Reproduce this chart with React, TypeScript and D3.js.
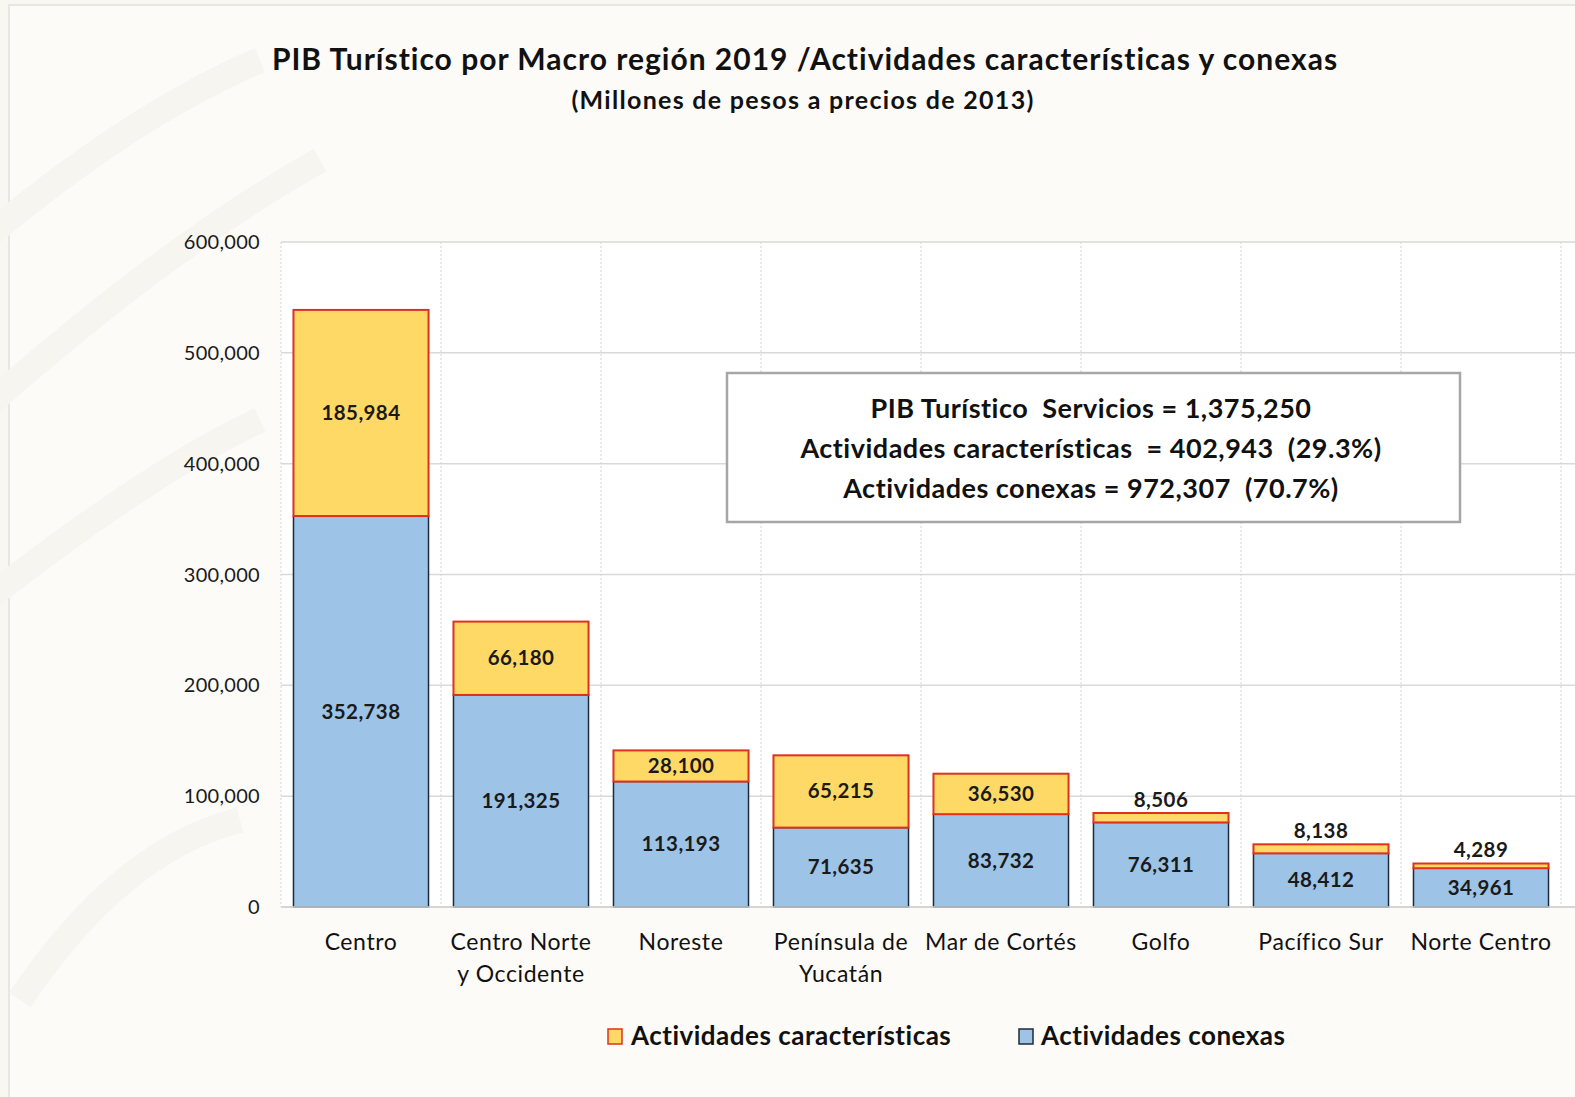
import React, { useEffect } from 'react';
import * as d3 from 'd3';

const categories = [
  ['Centro'],
  ['Centro Norte', 'y Occidente'],
  ['Noreste'],
  ['Península de', 'Yucatán'],
  ['Mar de Cortés'],
  ['Golfo'],
  ['Pacífico Sur'],
  ['Norte Centro'],
];
const conexas = [352738, 191325, 113193, 71635, 83732, 76311, 48412, 34961];
const caracteristicas = [185984, 66180, 28100, 65215, 36530, 8506, 8138, 4289];
const yTicks = [0, 100000, 200000, 300000, 400000, 500000, 600000];
const boxLines = [
  'PIB Turístico  Servicios = 1,375,250',
  'Actividades características  = 402,943  (29.3%)',
  'Actividades conexas = 972,307  (70.7%)',
];

const W = 1575;
const H = 1097;
const FONT = 'Lato, "Open Sans", sans-serif';
const YELLOW = '#ffd966';
const RED = '#e0301e';
const BLUE = '#9dc3e6';
const DARK = '#1f2a38';

const fmt = d3.format(',');

export default function App() {
  useEffect(() => {
    document.body.style.margin = '0';
  }, []);

  const x = d3
    .scaleBand<number>()
    .domain(d3.range(categories.length))
    .range([281, 1561])
    .paddingInner(0.156)
    .paddingOuter(0.078);
  const y = d3.scaleLinear().domain([0, 600000]).range([907, 242]);
  const step = x.step();

  return (
    <svg width={W} height={H} style={{ display: 'block' }} fontFamily={FONT}>
      <rect x={0} y={0} width={W} height={H} fill="#f8f7f2" />
      <rect x={9} y={5} width={W} height={H} fill="#fcfbf8" stroke="#e2e1dc" strokeWidth={1.5} />
      {/* faint watermark */}
      <g fill="none" stroke="#f7f5f0" strokeWidth={26}>
        <path d="M -40 260 Q 120 120 260 60" />
        <path d="M -40 430 Q 160 250 320 160" />
        <path d="M -40 620 Q 150 470 260 420" />
        <path d="M 20 1000 Q 120 850 240 820" />
      </g>
      <rect x={281} y={242} width={1294} height={665} fill="#ffffff" />

      <text x={805} y={70} textAnchor="middle" fontSize={30} fontWeight={700} letterSpacing={1} fill="#111">
        PIB Turístico por Macro región 2019 /Actividades características y conexas
      </text>
      <text x={803} y={109} textAnchor="middle" fontSize={25} fontWeight={700} letterSpacing={1.3} fill="#111">
        (Millones de pesos a precios de 2013)
      </text>

      {/* grid */}
      {yTicks.map((t) => (
        <line key={'h' + t} x1={281} x2={1575} y1={y(t)} y2={y(t)} stroke="#d9d9d9" strokeWidth={1.5} />
      ))}
      {d3.range(categories.length + 1).map((i) => (
        <line
          key={'v' + i}
          x1={281 + i * step}
          x2={281 + i * step}
          y1={242}
          y2={907}
          stroke="#d4d4d4"
          strokeDasharray="2,2"
        />
      ))}
      {yTicks.map((t) => (
        <text key={'t' + t} x={260} y={y(t) + 7} textAnchor="end" fontSize={20} letterSpacing={0.3} fill="#1a1a1a">
          {fmt(t)}
        </text>
      ))}

      {/* bars */}
      {categories.map((c, i) => {
        const x0 = x(i) as number;
        const bw = x.bandwidth();
        const yb = y(conexas[i]);
        const yt = y(conexas[i] + caracteristicas[i]);
        const small = yb - yt < 30;
        return (
          <g key={'b' + i}>
            <rect x={x0} y={yb} width={bw} height={y(0) - yb} fill={BLUE} stroke={DARK} strokeWidth={1.5} />
            <rect x={x0} y={yt} width={bw} height={yb - yt} fill={YELLOW} stroke={RED} strokeWidth={2} />
            <text
              x={x0 + bw / 2}
              y={(yb + y(0)) / 2 + 7}
              textAnchor="middle"
              fontSize={20.5}
              fontWeight={700}
              letterSpacing={0.4}
              fill="#1a1a1a"
            >
              {fmt(conexas[i])}
            </text>
            <text
              x={x0 + bw / 2}
              y={small ? yt - 6 : (yt + yb) / 2 + 7}
              textAnchor="middle"
              fontSize={20.5}
              fontWeight={700}
              letterSpacing={0.4}
              fill="#1a1a1a"
            >
              {fmt(caracteristicas[i])}
            </text>
            {c.map((line, k) => (
              <text
                key={k}
                x={x0 + bw / 2}
                y={950 + k * 32}
                textAnchor="middle"
                fontSize={23}
                letterSpacing={0.6}
                fill="#111"
              >
                {line}
              </text>
            ))}
          </g>
        );
      })}
      <line x1={281} x2={1575} y1={y(0)} y2={y(0)} stroke="#d0d0d0" strokeWidth={1.5} />

      {/* annotation box */}
      <rect x={727} y={373} width={733} height={149} fill="#ffffff" stroke="#a6a6a6" strokeWidth={2.5} />
      {boxLines.map((l, i) => (
        <text
          key={'bl' + i}
          x={1091}
          y={418 + i * 40}
          textAnchor="middle"
          fontSize={27}
          fontWeight={700}
          letterSpacing={0.5}
          fill="#111"
          style={{ whiteSpace: 'pre' }}
        >
          {l}
        </text>
      ))}

      {/* legend */}
      <rect x={608} y={1029} width={14} height={15} fill={YELLOW} stroke={RED} strokeWidth={1.5} />
      <text x={631} y={1045} fontSize={26} fontWeight={700} letterSpacing={0.5} fill="#111">
        Actividades características
      </text>
      <rect x={1019} y={1029} width={14} height={15} fill={BLUE} stroke={DARK} strokeWidth={1.5} />
      <text x={1041} y={1045} fontSize={26} fontWeight={700} letterSpacing={0.5} fill="#111">
        Actividades conexas
      </text>
    </svg>
  );
}
